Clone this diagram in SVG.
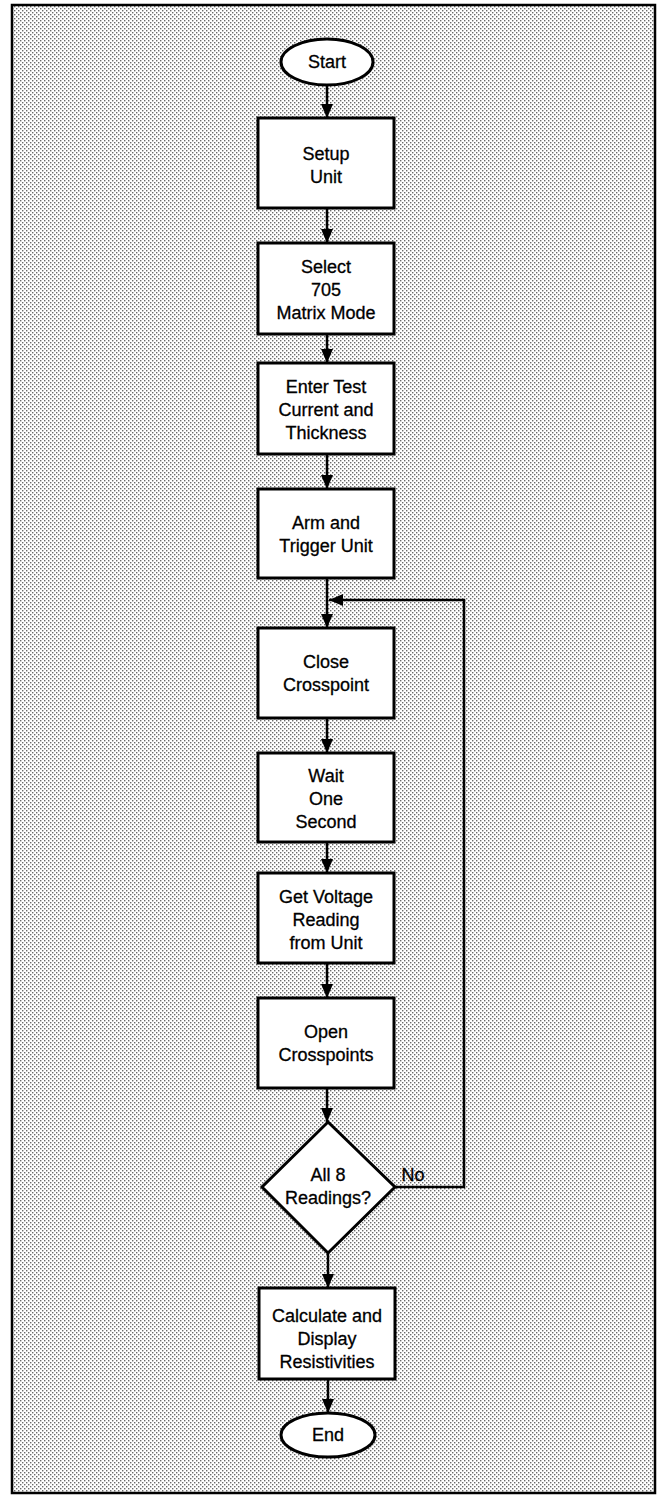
<svg xmlns="http://www.w3.org/2000/svg" width="658" height="1495" viewBox="0 0 658 1495">
  <defs>
    <pattern id="dots" width="4" height="4" patternUnits="userSpaceOnUse">
      <rect width="4" height="4" fill="#ffffff"/>
      <rect x="0" y="0" width="1.4" height="1.4" fill="#6a6a6a"/>
      <rect x="2" y="2" width="1.4" height="1.4" fill="#6a6a6a"/>
    </pattern>
    <marker id="arr" markerWidth="14" markerHeight="12" refX="14" refY="6" orient="auto" markerUnits="userSpaceOnUse">
      <path d="M0,0 L14,6 L0,12 z" fill="#000"/>
    </marker>
  </defs>
  <style>
    .node { fill: #ffffff; stroke: #000; stroke-width: 3; }
    .lbl { font-family: "Liberation Sans", Arial, sans-serif; font-size: 18px; fill: #000; stroke: #000; stroke-width: 0.3; text-anchor: middle; }
    .edge { fill: none; stroke: #000; stroke-width: 2.5; }
  </style>
  <rect x="0" y="0" width="658" height="1495" fill="#ffffff"/>
  <rect x="12" y="5" width="643" height="1488" fill="url(#dots)" stroke="#000" stroke-width="2.5"/>

  <g id="connectors">
    <line class="edge" x1="327" y1="85" x2="327" y2="118" marker-end="url(#arr)"/>
    <line class="edge" x1="327" y1="208" x2="327" y2="243" marker-end="url(#arr)"/>
    <line class="edge" x1="327" y1="334" x2="327" y2="363" marker-end="url(#arr)"/>
    <line class="edge" x1="327" y1="454" x2="327" y2="489" marker-end="url(#arr)"/>
    <line class="edge" x1="327" y1="578" x2="327" y2="628" marker-end="url(#arr)"/>
    <line class="edge" x1="327" y1="718" x2="327" y2="753" marker-end="url(#arr)"/>
    <line class="edge" x1="327" y1="842" x2="327" y2="873" marker-end="url(#arr)"/>
    <line class="edge" x1="327" y1="963" x2="327" y2="998" marker-end="url(#arr)"/>
    <line class="edge" x1="327" y1="1088" x2="327" y2="1122" marker-end="url(#arr)"/>
    <line class="edge" x1="328" y1="1253" x2="328" y2="1288" marker-end="url(#arr)"/>
    <line class="edge" x1="328" y1="1379" x2="328" y2="1413" marker-end="url(#arr)"/>
    <polyline class="edge" points="395,1187 464,1187 464,600 329,600" marker-end="url(#arr)"/>
    <text class="lbl" x="413" y="1181">No</text>
  </g>

  <g id="start">
    <ellipse class="node" cx="327" cy="62" rx="46" ry="23"/>
    <text class="lbl" x="327" y="68">Start</text>
  </g>
  <g id="setup">
    <rect class="node" x="258" y="118" width="136" height="90"/>
    <text class="lbl" x="326" y="160">Setup</text>
    <text class="lbl" x="326" y="183">Unit</text>
  </g>
  <g id="select">
    <rect class="node" x="258" y="243" width="136" height="91"/>
    <text class="lbl" x="326" y="273">Select</text>
    <text class="lbl" x="326" y="296">705</text>
    <text class="lbl" x="326" y="319">Matrix Mode</text>
  </g>
  <g id="enter">
    <rect class="node" x="258" y="363" width="136" height="91"/>
    <text class="lbl" x="326" y="393">Enter Test</text>
    <text class="lbl" x="326" y="416">Current and</text>
    <text class="lbl" x="326" y="439">Thickness</text>
  </g>
  <g id="arm">
    <rect class="node" x="258" y="489" width="136" height="89"/>
    <text class="lbl" x="326" y="529">Arm and</text>
    <text class="lbl" x="326" y="552">Trigger Unit</text>
  </g>
  <g id="close">
    <rect class="node" x="258" y="628" width="136" height="90"/>
    <text class="lbl" x="326" y="668">Close</text>
    <text class="lbl" x="326" y="691">Crosspoint</text>
  </g>
  <g id="wait">
    <rect class="node" x="258" y="753" width="136" height="89"/>
    <text class="lbl" x="326" y="782">Wait</text>
    <text class="lbl" x="326" y="805">One</text>
    <text class="lbl" x="326" y="828">Second</text>
  </g>
  <g id="get">
    <rect class="node" x="258" y="873" width="136" height="90"/>
    <text class="lbl" x="326" y="903">Get Voltage</text>
    <text class="lbl" x="326" y="926">Reading</text>
    <text class="lbl" x="326" y="949">from Unit</text>
  </g>
  <g id="open">
    <rect class="node" x="258" y="998" width="136" height="90"/>
    <text class="lbl" x="326" y="1038">Open</text>
    <text class="lbl" x="326" y="1061">Crosspoints</text>
  </g>
  <g id="decision">
    <polygon class="node" points="328,1122 395,1187 328,1253 262,1187"/>
    <text class="lbl" x="328" y="1181">All 8</text>
    <text class="lbl" x="328" y="1204">Readings?</text>
  </g>
  <g id="calc">
    <rect class="node" x="259" y="1288" width="136" height="91"/>
    <text class="lbl" x="327" y="1322">Calculate and</text>
    <text class="lbl" x="327" y="1345">Display</text>
    <text class="lbl" x="327" y="1368">Resistivities</text>
  </g>
  <g id="end">
    <ellipse class="node" cx="328" cy="1435" rx="47" ry="22"/>
    <text class="lbl" x="328" y="1441">End</text>
  </g>
</svg>
